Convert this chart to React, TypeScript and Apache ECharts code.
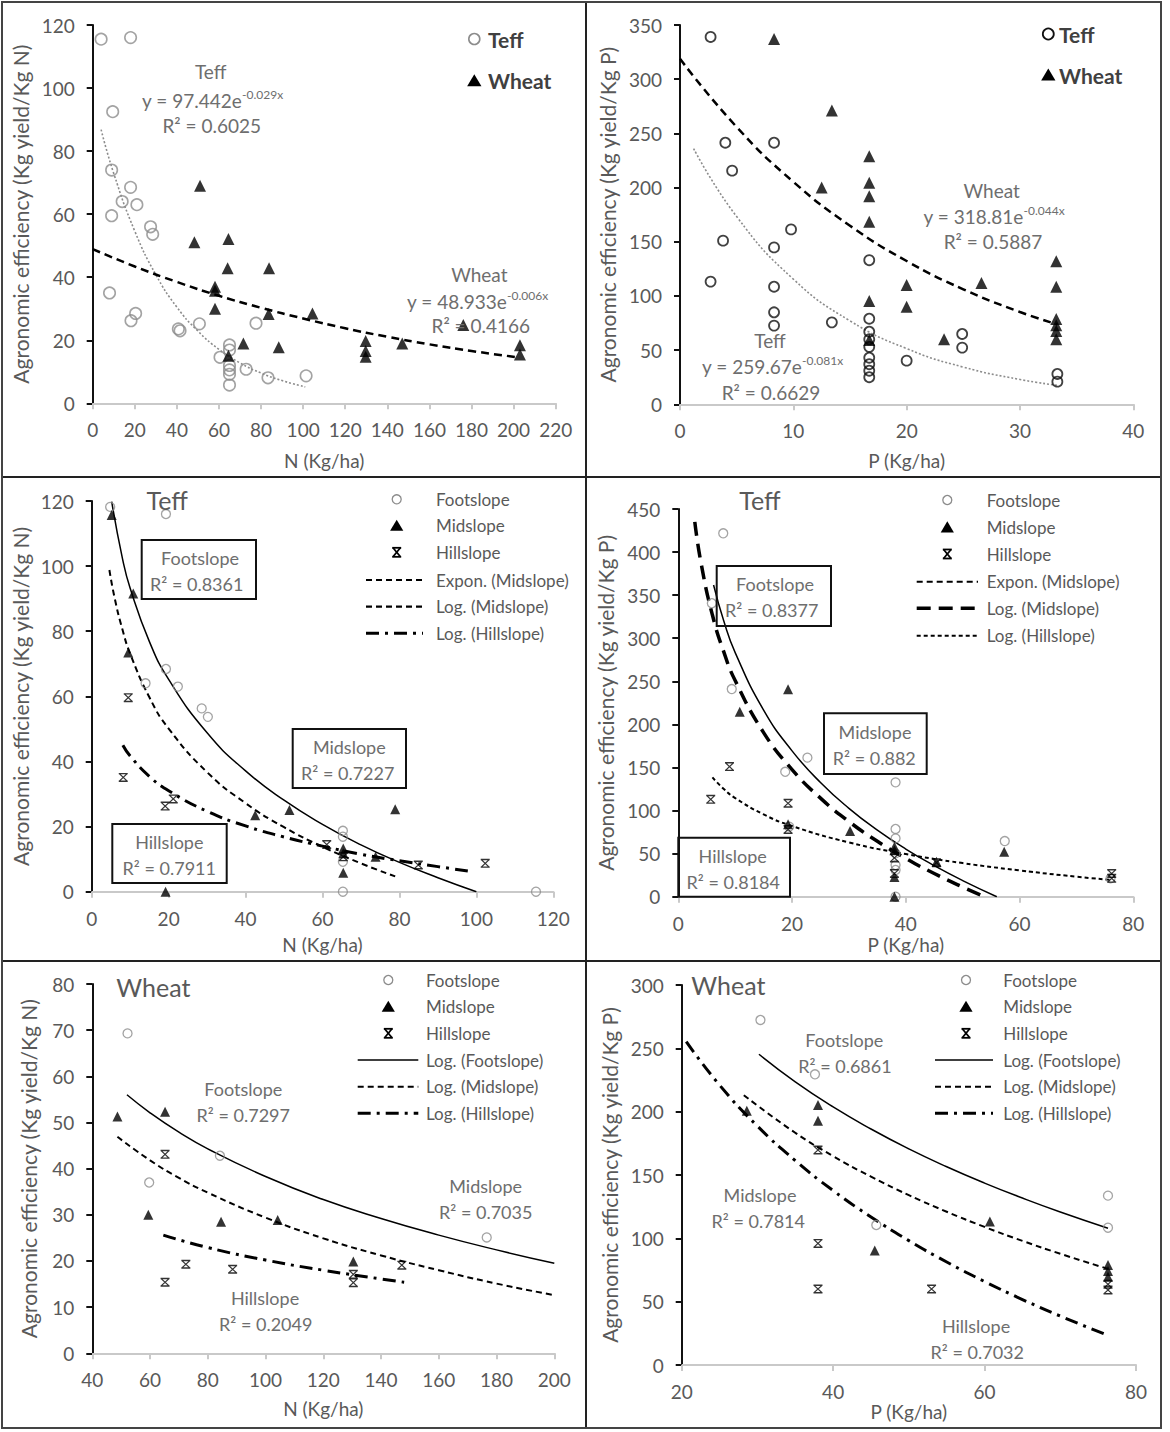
import React, { useEffect, useRef } from "react";
import * as echarts from "echarts";

// ---------- Panel 1: N, Teff vs Wheat ----------
const teffN: number[][] = [[4,115.5],[18,116],[9.5,92.5],[9,74],[18,68.5],[14,64],[21,63],[9,59.5],[27.5,56],[28.5,53.6],[8,35],[20.4,28.5],[18.2,26.2],[40.7,23.6],[41.5,23],[50.7,25.2],[77.6,25.4],[65,18.5],[65,16.9],[60.5,14.6],[65,12],[65,10.6],[65,9.2],[65,5.8],[72.9,10.8],[83.3,8.1],[101.4,8.7]];
const wheatN: number[][] = [[51,69],[48.3,51.1],[64.5,52.1],[64.1,42.8],[83.8,42.8],[58.1,37],[58.1,35.7],[58.1,30],[83.6,28.3],[104.4,28.5],[71.6,19],[88.4,17.8],[64.5,15.1],[129.7,19.8],[129.7,16.6],[129.7,14.8],[147.1,19],[176.1,24.8],[203,18.4],[203,15.5]];
const teffNFit: number[][] = [[4,86.8],[10,72.9],[20,54.6],[30,40.8],[40,30.5],[50,22.9],[60,17.1],[70,12.8],[80,9.6],[90,7.2],[101,5.2]];
const wheatNFit: number[][] = [[0,48.9],[20,43.4],[40,38.5],[60,34.1],[80,30.3],[100,26.9],[120,23.8],[140,21.1],[160,18.7],[180,16.6],[203,14.5]];

// ---------- Panel 2: P, Teff vs Wheat ----------
const teffP: number[][] = [[2.7,339],[4,241.4],[8.3,241.4],[4.6,215.6],[9.8,161.4],[3.8,151],[8.3,144.8],[2.7,113.2],[8.3,108.5],[8.3,84.9],[8.3,72.6],[13.4,75.6],[16.7,133],[16.7,79],[16.7,67],[16.7,60],[16.7,53],[16.7,43],[16.7,37],[16.7,31],[16.7,25],[20,40.3],[24.9,64.9],[24.9,52.3],[33.3,28],[33.3,20.9]];
const wheatP: number[][] = [[8.3,337],[13.4,271],[12.5,200],[16.7,229],[16.7,204.5],[16.7,192],[16.7,168.5],[16.7,95.3],[16.7,59.3],[20,110],[20,90],[23.3,60],[26.6,112],[33.2,132],[33.2,108.5],[33.2,78.7],[33.2,73],[33.2,67.6],[33.2,60]];
const wheatPFit: number[][] = [[0,318.8],[5,255.9],[10,205.3],[15,164.8],[20,132.2],[25,106.1],[30,85.2],[33.3,73.7]];
const teffPFit: number[][] = [[1.2,236],[5,173.2],[10,115.5],[15,77],[20,51.4],[25,34.3],[30,22.9],[33.3,17.5]];

// ---------- Panel 3: Teff, N by slope ----------
const footN: number[][] = [[4.8,118.2],[19.3,116],[19.3,68.4],[14,64],[22.4,63],[28.6,56.3],[30.2,53.7],[65.3,18.7],[65.3,16.9],[65.3,9.2],[65.3,0],[115.5,0]];
const midN: number[][] = [[5.2,115.7],[10.8,91.6],[9.5,73.5],[42.5,23.5],[51.4,25.1],[78.9,25.3],[19.2,0],[65.4,13.3],[65.4,11.8],[65.4,5.8],[73.8,10.7]];
const hillN: number[][] = [[9.5,59.6],[8.2,35.1],[21.2,28.5],[19.1,26.3],[61.1,14.5],[65.4,10.7],[84.9,8.2],[102.3,8.7]];
const footNFit: number[][] = [[5.2,119.8],[8,102.3],[10,93.2],[15,76.8],[20,65.2],[30,48.8],[40,37.1],[50,28.1],[60,20.7],[70,14.4],[80,9],[90,4.3],[100,0]];
const midNFit: number[][] = [[4.6,98.8],[6,90],[8,80.5],[10,73.1],[15,59.7],[20,50.1],[30,36.7],[40,27.2],[50,19.8],[60,13.8],[70,8.7],[78.9,4.7]];
const hillNFit: number[][] = [[8.1,45],[10,41.7],[15,35.4],[20,31],[30,24.7],[40,20.2],[50,16.8],[60,14],[70,11.5],[80,9.5],[90,7.7],[99.2,6.1]];

// ---------- Panel 4: Teff, P by slope ----------
const footP: number[][] = [[7.9,421.8],[5.9,340.6],[9.4,241],[18.8,145],[22.7,161.4],[38.2,132.7],[38.2,78.6],[38.2,67.7],[38.2,50.3],[38.2,36.8],[38.2,31],[38.2,0],[57.4,64.6],[19.5,81.3],[76,21.3]];
const midP: number[][] = [[3.2,450.8],[19.3,240.7],[10.8,214.8],[19.3,84],[30.2,76.2],[38,58],[38,54],[38,23],[38,0],[57.3,52.2],[45.4,40.6]];
const hillP: number[][] = [[9,151],[5.7,113],[19.3,108.4],[19.3,78],[38,45],[38,27],[45.4,39.5],[76.2,27],[76.2,21.3]];
const footPFit: number[][] = [[6.2,361.8],[8,319.9],[10,283.3],[15,216.6],[20,169.3],[25,132.6],[30,102.6],[35,77.3],[40,55.3],[45,36],[50,18.7],[56,0]];
const midPFit: number[][] = [[2.9,435],[4,387.3],[6,326.9],[8,284.1],[10,250.9],[15,190.5],[20,147.6],[25,114.4],[30,87.3],[35,64.3],[40,44.4],[45,26.9],[50,11.2],[53.9,0]];
const hillPFit: number[][] = [[6,138.5],[8,125],[10,114.5],[15,95.5],[20,82],[30,63],[40,49.5],[50,39],[60,30.5],[70,23.2],[76.2,19.4]];

// ---------- Panel 5: Wheat, N by slope ----------
const footWN: number[][] = [[52.2,69.3],[59.7,37],[84.2,42.8],[176.6,25.1]];
const midWN: number[][] = [[48.7,51.3],[65.2,52.3],[59.4,30],[84.6,28.5],[104.2,28.9],[130.4,19.9]];
const hillWN: number[][] = [[65.2,43.1],[65.2,15.4],[72.4,19.3],[88.6,18.2],[130.4,17.1],[130.4,15.3],[147.2,19.1]];
const footWNFit: number[][] = [[52,56],[60,52.1],[70,47.9],[80,44.3],[100,38.3],[120,33.3],[140,29.2],[160,25.6],[180,22.4],[200,19.5]];
const midWNFit: number[][] = [[48.7,46.9],[60,41.8],[70,38],[80,34.8],[100,29.4],[120,24.9],[140,21.2],[160,18],[180,15.1],[200,12.6]];
const hillWNFit: number[][] = [[64.6,25.6],[80,22.9],[100,20.2],[120,18],[140,16.1],[148,15.4]];

// ---------- Panel 6: Wheat, P by slope ----------
const footWP: number[][] = [[30.4,272.4],[37.6,229.5],[45.7,110.5],[76.3,133.7],[76.3,108.4]];
const midWP: number[][] = [[28.6,200.8],[38,205.3],[38,192.9],[45.5,90.3],[60.7,113.2],[76.3,79],[76.3,74.2],[76.3,69.7]];
const hillWP: number[][] = [[38,169.7],[38,96],[38,60],[53,60],[76.3,63.7],[76.3,59.2]];
const footWPFit: number[][] = [[30.2,245.3],[35,223.5],[40,203.7],[45,186.3],[50,170.6],[55,156.5],[60,143.6],[65,131.8],[70,120.8],[76.3,108]];
const midWPFit: number[][] = [[28.2,213],[35,183.3],[40,164.9],[45,148.7],[50,134.1],[55,121],[60,109],[65,98],[70,87.8],[76.3,75.9]];
const hillWPFit: number[][] = [[20.6,255.3],[25,221],[30,188.6],[35,161.4],[40,137.7],[45,116.9],[50,98.2],[55,81.3],[60,65.9],[65,51.7],[70,38.6],[76.2,23.7]];

// ---------- Texts ----------
const yTitleN = "Agronomic efficiency (Kg yield/Kg N)";
const yTitleP = "Agronomic efficiency (Kg yield/Kg P)";
const xTitleN = "N (Kg/ha)";
const xTitleP = "P (Kg/ha)";

const FONT = "Lato, 'Open Sans', sans-serif";
const TICK = "#595959";
const ANN = "#6e6e6e";
const GRAYM = "#8c8c8c";
const HILL_PATH = "path://M0,0L10,0L10,1.6L0,1.6Z M0.4,1.6L2.3,1.6L9.6,8.4L7.7,8.4Z M7.7,1.6L9.6,1.6L2.3,8.4L0.4,8.4Z M0,8.4L10,8.4L10,10L0,10Z";

function xAx(i: number, min: number, max: number, interval: number, name: string, nameGap: number) {
  return {
    type: "value", gridIndex: i, min, max, interval, name, nameLocation: "middle", nameGap,
    nameTextStyle: { color: TICK, fontSize: 19, fontFamily: FONT },
    axisLine: { show: true, onZero: false, lineStyle: { color: "#c9c9c9", width: 2 } },
    axisTick: { show: true, length: 6, lineStyle: { color: "#c9c9c9", width: 2 } },
    axisLabel: { color: TICK, fontSize: 19, fontFamily: FONT, margin: 17 },
    splitLine: { show: false },
  };
}
function yAx(i: number, min: number, max: number, interval: number, name: string, nameGap: number) {
  return {
    type: "value", gridIndex: i, min, max, interval, name, nameLocation: "middle", nameGap, nameRotate: 90,
    nameTextStyle: { color: TICK, fontSize: 21, fontFamily: FONT },
    axisLine: { show: true, onZero: false, lineStyle: { color: "#111", width: 2 } },
    axisTick: { show: true, length: 6, lineStyle: { color: "#111", width: 2 } },
    axisLabel: { color: TICK, fontSize: 19, fontFamily: FONT, margin: 18 },
    splitLine: { show: false },
  };
}
function circles(data: number[][], i: number, color: string, size: number, lw: number) {
  return { type: "scatter", xAxisIndex: i, yAxisIndex: i, data, symbol: "circle", symbolSize: size, z: 4,
    itemStyle: { color: "rgba(0,0,0,0)", borderColor: color, borderWidth: lw } };
}
function tris(data: number[][], i: number, size: number) {
  return { type: "scatter", xAxisIndex: i, yAxisIndex: i, data, symbol: "triangle", symbolSize: size, z: 4,
    itemStyle: { color: "#000" } };
}
function hills(data: number[][], i: number, size: number) {
  return { type: "scatter", xAxisIndex: i, yAxisIndex: i, data, symbol: HILL_PATH, symbolSize: size, z: 4,
    itemStyle: { color: "#000" } };
}
function curve(data: number[][], i: number, color: string, width: number, dash: any) {
  return { type: "line", xAxisIndex: i, yAxisIndex: i, data, smooth: true, symbol: "none", showSymbol: false, z: 3,
    lineStyle: { color, width, type: dash } };
}

// graphic helpers
const txt = (x: number, y: number, text: string, size: number, color: string, align = "center", weight = "normal") => ({
  type: "text", x, y, z: 10,
  style: { text, fontSize: size, fontFamily: FONT, fontWeight: weight, fill: color, align, verticalAlign: "middle", textAlign: align, textVerticalAlign: "middle" },
});
const eq = (x: number, y: number, base: string, sup: string) => ({
  type: "text", x, y, z: 10,
  style: {
    text: `{m|${base}}{s|${sup}}`, align: "center", verticalAlign: "middle", textAlign: "center", textVerticalAlign: "middle",
    rich: {
      m: { fontSize: 19, fontFamily: FONT, fill: ANN, lineHeight: 24, verticalAlign: "middle" },
      s: { fontSize: 12, fontFamily: FONT, fill: ANN, lineHeight: 11, verticalAlign: "top" },
    },
  },
});
const circ = (cx: number, cy: number, r: number, stroke: string, lw: number) => ({
  type: "circle", z: 10, shape: { cx, cy, r }, style: { fill: "none", stroke, lineWidth: lw } });
const tri = (cx: number, cy: number, s: number) => ({
  type: "polygon", z: 10, shape: { points: [[cx, cy - s], [cx + s * 1.1, cy + s * 0.85], [cx - s * 1.1, cy + s * 0.85]] }, style: { fill: "#000" } });
const seg = (x1: number, y1: number, x2: number, y2: number, lw: number, dash: any, color = "#000") => ({
  type: "line", z: 10, shape: { x1, y1, x2, y2 }, style: { stroke: color, lineWidth: lw, lineDash: dash } });
const hillG = (cx: number, cy: number, s: number) => {
  const h = s / 2;
  return { type: "group", children: [
    seg(cx - h, cy - h, cx + h, cy - h, 1.8, null),
    seg(cx - h, cy + h, cx + h, cy + h, 1.8, null),
    seg(cx - h + 0.8, cy - h, cx + h - 0.8, cy + h, 1.8, null),
    seg(cx + h - 0.8, cy - h, cx - h + 0.8, cy + h, 1.8, null),
  ] };
};
const box = (x: number, y: number, w: number, h: number) => ({
  type: "rect", z: 9, shape: { x, y, width: w, height: h }, style: { fill: "none", stroke: "#111", lineWidth: 2 } });

const DASH = [6, 4];
const DASHDOT = [13, 6, 3, 6];
const LONGDASH = [14, 8];
const SHORTDASH = [4, 3];

function slopeLegend(mx: number, tx: number, l1: number, l2: number, rows: number[], labels: string[], lines: any[]) {
  const out: any[] = [];
  out.push(circ(mx, rows[0], 4.5, GRAYM, 1.3));
  out.push(tri(mx, rows[1], 6));
  out.push(hillG(mx, rows[2], 9));
  for (let k = 0; k < 3; k++) {
    const ln = lines[k];
    out.push(seg(l1, rows[k + 3], l2, rows[k + 3], ln.w, ln.d));
  }
  labels.forEach((lab, k) => out.push(txt(tx, rows[k], lab, 17, TICK, "left")));
  return out;
}

export default function App() {
  const ref = useRef<HTMLDivElement>(null);
  useEffect(() => {
    document.body.style.margin = "0";
    const chart = echarts.init(ref.current as HTMLDivElement, null, { renderer: "svg" });

    const grids = [
      { left: 92.7, top: 25, width: 463, height: 378.3 },
      { left: 680, top: 25, width: 453.3, height: 379.3 },
      { left: 91.7, top: 501, width: 461.6, height: 390.7 },
      { left: 678.3, top: 509, width: 455, height: 387.7 },
      { left: 92.3, top: 984, width: 462, height: 369.3 },
      { left: 681.7, top: 985, width: 454.3, height: 380 },
    ];

    const graphic: any[] = [
      // frame
      { type: "rect", z: 20, shape: { x: 2, y: 2, width: 1159, height: 1426 }, style: { fill: "none", stroke: "#444", lineWidth: 2 } },
      seg(586, 2, 586, 1428, 2, null, "#222"),
      seg(2, 477, 1161, 477, 2, null, "#222"),
      seg(2, 961, 1161, 961, 2, null, "#222"),

      // Panel 1
      txt(210.7, 71.7, "Teff", 19, ANN),
      eq(212.5, 100, "y = 97.442e", "-0.029x"),
      txt(211.7, 125, "R² = 0.6025", 19, ANN),
      txt(479.3, 274, "Wheat", 19, ANN),
      eq(477.5, 301, "y = 48.933e", "-0.006x"),
      txt(480.8, 325.7, "R² = 0.4166", 19, ANN),
      circ(474.3, 39, 5.5, GRAYM, 1.6),
      txt(488, 39, "Teff", 21, "#404040", "left", "bold"),
      tri(474.3, 80.7, 6.5),
      txt(488, 80.7, "Wheat", 21, "#404040", "left", "bold"),

      // Panel 2
      txt(991.7, 190, "Wheat", 19, ANN),
      eq(994, 216.7, "y = 318.81e", "-0.044x"),
      txt(993, 241.7, "R² = 0.5887", 19, ANN),
      txt(770, 340, "Teff", 19, ANN),
      eq(772.5, 366.7, "y = 259.67e", "-0.081x"),
      txt(771, 392.3, "R² = 0.6629", 19, ANN),
      circ(1048.3, 34, 5.5, "#111", 1.8),
      txt(1059, 34, "Teff", 21, "#404040", "left", "bold"),
      tri(1048.3, 75, 6.5),
      txt(1059, 75, "Wheat", 21, "#404040", "left", "bold"),

      // Panel 3
      txt(167.3, 500, "Teff", 25, TICK),
      box(141.7, 540, 114.3, 59),
      txt(200, 558.3, "Footslope", 18, ANN),
      txt(196.7, 584, "R² = 0.8361", 18, ANN),
      box(292.7, 729, 113.3, 59),
      txt(349.3, 746.7, "Midslope", 18, ANN),
      txt(347.7, 773.3, "R² = 0.7227", 18, ANN),
      box(112.3, 824, 114.4, 59),
      txt(169.3, 842.3, "Hillslope", 18, ANN),
      txt(169.3, 868.3, "R² = 0.7911", 18, ANN),
      ...slopeLegend(396.7, 436, 366, 423, [499.3, 525.7, 552.3, 580, 606.7, 633.3],
        ["Footslope", "Midslope", "Hillslope", "Expon. (Midslope)", "Log. (Midslope)", "Log. (Hillslope)"],
        [{ w: 2, d: DASH }, { w: 2.2, d: DASH }, { w: 3, d: DASHDOT }]),

      // Panel 4
      txt(760, 500, "Teff", 25, TICK),
      box(716.7, 566, 114.3, 60),
      txt(775, 584.3, "Footslope", 18, ANN),
      txt(771.7, 610, "R² = 0.8377", 18, ANN),
      box(824, 713.3, 102.7, 60.7),
      txt(875, 731.7, "Midslope", 18, ANN),
      txt(874.3, 758.3, "R² = 0.882", 18, ANN),
      box(678.3, 837.7, 111.7, 59),
      txt(732.7, 856, "Hillslope", 18, ANN),
      txt(733.3, 881.7, "R² = 0.8184", 18, ANN),
      ...slopeLegend(947.3, 986.7, 916.7, 978, [500, 527.3, 554, 581.7, 608.3, 635.7],
        ["Footslope", "Midslope", "Hillslope", "Expon. (Midslope)", "Log. (Midslope)", "Log. (Hillslope)"],
        [{ w: 2, d: DASH }, { w: 3.5, d: LONGDASH }, { w: 2, d: SHORTDASH }]),

      // Panel 5
      txt(153.3, 986.7, "Wheat", 25, TICK),
      txt(243.3, 1089, "Footslope", 18, ANN),
      txt(243.3, 1115, "R² = 0.7297", 18, ANN),
      txt(485.7, 1186, "Midslope", 18, ANN),
      txt(485.7, 1212.3, "R² = 0.7035", 18, ANN),
      txt(265, 1298.3, "Hillslope", 18, ANN),
      txt(265.7, 1324.3, "R² = 0.2049", 18, ANN),
      ...slopeLegend(388.3, 426, 357.7, 418.3, [980, 1006.7, 1033.3, 1060, 1086.7, 1113.3],
        ["Footslope", "Midslope", "Hillslope", "Log. (Footslope)", "Log. (Midslope)", "Log. (Hillslope)"],
        [{ w: 1.5, d: null }, { w: 2, d: DASH }, { w: 3, d: DASHDOT }]),

      // Panel 6
      txt(728.3, 985, "Wheat", 25, TICK),
      txt(844.3, 1040, "Footslope", 18, ANN),
      txt(845, 1065.7, "R² = 0.6861", 18, ANN),
      txt(760, 1195, "Midslope", 18, ANN),
      txt(758.3, 1221, "R² = 0.7814", 18, ANN),
      txt(976, 1326, "Hillslope", 18, ANN),
      txt(977.3, 1351.7, "R² = 0.7032", 18, ANN),
      ...slopeLegend(966, 1003.3, 935, 993, [980, 1006.7, 1033.3, 1060, 1086.7, 1113.3],
        ["Footslope", "Midslope", "Hillslope", "Log. (Footslope)", "Log. (Midslope)", "Log. (Hillslope)"],
        [{ w: 1.5, d: null }, { w: 2, d: DASH }, { w: 3, d: DASHDOT }]),
    ];

    const option: any = {
      animation: false,
      backgroundColor: "#fff",
      grid: grids,
      xAxis: [
        xAx(0, 0, 220, 20, xTitleN, 48),
        xAx(1, 0, 40, 10, xTitleP, 47),
        xAx(2, 0, 120, 20, xTitleN, 43),
        xAx(3, 0, 80, 20, xTitleP, 38),
        xAx(4, 40, 200, 20, xTitleN, 46),
        xAx(5, 20, 80, 20, xTitleP, 36),
      ],
      yAxis: [
        yAx(0, 0, 120, 20, yTitleN, 62),
        yAx(1, 0, 350, 50, yTitleP, 62),
        yAx(2, 0, 120, 20, yTitleN, 61),
        yAx(3, 0, 450, 50, yTitleP, 62),
        yAx(4, 0, 80, 10, yTitleN, 53),
        yAx(5, 0, 300, 50, yTitleP, 62),
      ],
      series: [
        // panel 1
        curve(teffNFit, 0, "#8c8c8c", 1.6, [2, 2]),
        curve(wheatNFit, 0, "#000", 2.5, [8, 5]),
        circles(teffN, 0, GRAYM, 11.5, 1.6),
        tris(wheatN, 0, 12),
        // panel 2
        curve(teffPFit, 1, "#8c8c8c", 1.6, [2, 2]),
        curve(wheatPFit, 1, "#000", 2.5, [8, 5]),
        circles(teffP, 1, "#111", 10, 1.8),
        tris(wheatP, 1, 12),
        // panel 3
        curve(footNFit, 2, "#000", 1.5, "solid"),
        curve(midNFit, 2, "#000", 2, DASH),
        curve(hillNFit, 2, "#000", 3, DASHDOT),
        circles(footN, 2, GRAYM, 9, 1.3),
        tris(midN, 2, 10),
        hills(hillN, 2, 9),
        // panel 4
        curve(footPFit, 3, "#000", 1.5, "solid"),
        curve(midPFit, 3, "#000", 3.5, LONGDASH),
        curve(hillPFit, 3, "#000", 2, SHORTDASH),
        circles(footP, 3, GRAYM, 9, 1.3),
        tris(midP, 3, 10),
        hills(hillP, 3, 9),
        // panel 5
        curve(footWNFit, 4, "#000", 1.5, "solid"),
        curve(midWNFit, 4, "#000", 2, DASH),
        curve(hillWNFit, 4, "#000", 3, DASHDOT),
        circles(footWN, 4, GRAYM, 9, 1.3),
        tris(midWN, 4, 10),
        hills(hillWN, 4, 9),
        // panel 6
        curve(footWPFit, 5, "#000", 1.5, "solid"),
        curve(midWPFit, 5, "#000", 2, DASH),
        curve(hillWPFit, 5, "#000", 3, DASHDOT),
        circles(footWP, 5, GRAYM, 9, 1.3),
        tris(midWP, 5, 10),
        hills(hillWP, 5, 9),
      ],
      graphic,
    };
    chart.setOption(option);
    return () => chart.dispose();
  }, []);
  return <div ref={ref} style={{ width: 1170, height: 1432 }} />;
}
